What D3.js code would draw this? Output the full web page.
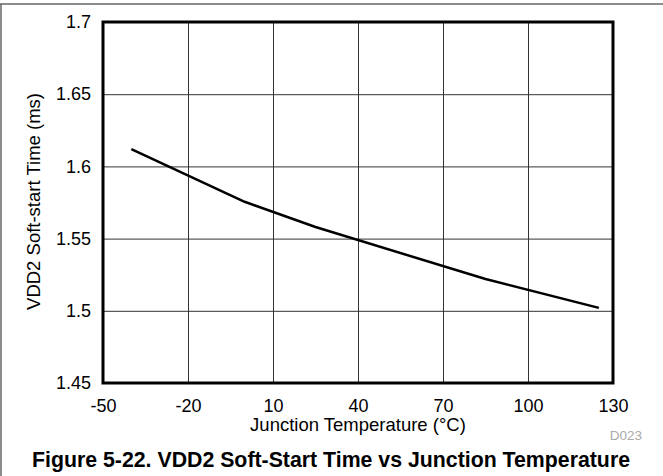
<!DOCTYPE html>
<html>
<head>
<meta charset="utf-8">
<script src="https://cdn.jsdelivr.net/npm/d3@7"></script>
<style>
  body { margin: 0; background: #fff; }
  svg { display: block; font-family: Arial, "Liberation Sans", sans-serif; }
</style>
</head>
<body>
<svg id="chart"></svg>
<script>
// data
const temps = [-40, 0, 25, 85, 125];
const softStart = [1.612, 1.5755, 1.558, 1.522, 1.502];

const xTicks = [-50, -20, 10, 40, 70, 100, 130];
const yTicks = [1.45, 1.5, 1.55, 1.6, 1.65, 1.7];

const W = 663, H = 476;
const margin = { top: 22, right: 50, bottom: 93, left: 103 };
const width = W - margin.left - margin.right;
const height = H - margin.top - margin.bottom;

const svg = d3.select("#chart").attr("width", W).attr("height", H);

// outer frame (top + left only)
svg.append("line").attr("x1", 0).attr("x2", W).attr("y1", 4).attr("y2", 4)
  .attr("stroke", "#666").attr("stroke-width", 1.5);
svg.append("line").attr("x1", 1).attr("x2", 1).attr("y1", 4).attr("y2", H)
  .attr("stroke", "#666").attr("stroke-width", 1.5);

const g = svg.append("g")
  .attr("transform", "translate(" + margin.left + "," + margin.top + ")");

const x = d3.scaleLinear().domain([-50, 130]).range([0, width]);
const y = d3.scaleLinear().domain([1.45, 1.7]).range([height, 0]);

// GRID
g.append("g")
  .attr("transform", "translate(0," + height + ")")
  .call(d3.axisBottom(x).tickValues(xTicks).tickSize(-height).tickFormat(""))
  .call(s => s.select(".domain").remove())
  .call(s => s.selectAll("line").attr("stroke", "#333").attr("stroke-width", 1));

g.append("g")
  .call(d3.axisLeft(y).tickValues(yTicks).tickSize(-width).tickFormat(""))
  .call(s => s.select(".domain").remove())
  .call(s => s.selectAll("line").attr("stroke", "#333").attr("stroke-width", 1));

// tick labels
g.append("g")
  .attr("transform", "translate(0," + height + ")")
  .call(d3.axisBottom(x).tickValues(xTicks).tickSize(0).tickPadding(16).tickFormat(d => String(d)))
  .call(s => s.select(".domain").remove())
  .call(s => s.selectAll("text").attr("font-size", 18).attr("fill", "#000")
    .attr("font-family", "Arial, 'Liberation Sans', sans-serif"));

g.append("g")
  .call(d3.axisLeft(y).tickValues(yTicks).tickSize(0).tickPadding(12).tickFormat(d => String(+d.toFixed(2))))
  .call(s => s.select(".domain").remove())
  .call(s => s.selectAll("text").attr("font-size", 18).attr("fill", "#000")
    .attr("font-family", "Arial, 'Liberation Sans', sans-serif"));

// frame
g.append("rect")
  .attr("width", width).attr("height", height)
  .attr("fill", "none").attr("stroke", "#000").attr("stroke-width", 3);

// LINE
const line = d3.line()
  .x((d, i) => x(temps[i]))
  .y(d => y(d));

g.append("path")
  .datum(softStart)
  .attr("d", line)
  .attr("fill", "none")
  .attr("stroke", "#000")
  .attr("stroke-width", 2.5)
  .attr("stroke-linejoin", "round");

// labels
g.append("text")
  .attr("x", width / 2).attr("y", height + 48)
  .attr("text-anchor", "middle").attr("font-size", 18.5)
  .text("Junction Temperature (°C)");

g.append("text")
  .attr("transform", "rotate(-90)")
  .attr("x", -height / 2 + 1).attr("y", -63)
  .attr("text-anchor", "middle").attr("font-size", 18.5)
  .text("VDD2 Soft-start Time (ms)");

svg.append("text")
  .attr("x", 642).attr("y", 440)
  .attr("text-anchor", "end").attr("font-size", 13.5).attr("fill", "#aaa")
  .text("D023");

svg.append("text")
  .attr("x", 331).attr("y", 467)
  .attr("text-anchor", "middle").attr("font-size", 21.3).attr("font-weight", "bold")
  .text("Figure 5-22. VDD2 Soft-Start Time vs Junction Temperature");
</script>
</body>
</html>
